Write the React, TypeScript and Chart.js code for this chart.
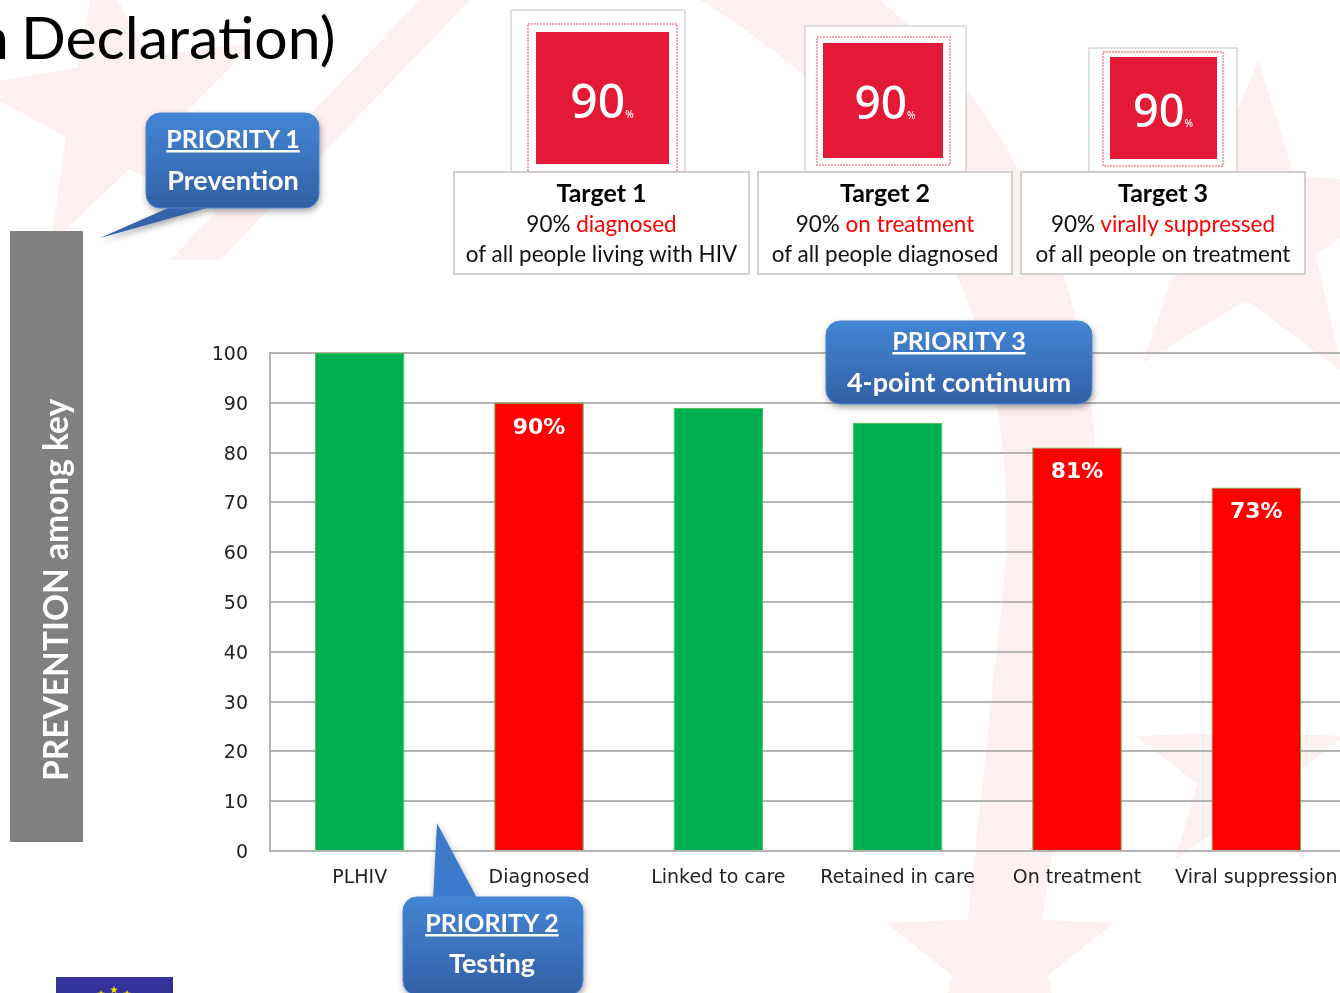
import React, { useEffect, useRef } from "react";
import { Chart, registerables } from "chart.js";

Chart.register(...registerables);

// ---- Data ----
const CATEGORIES = [
  "PLHIV",
  "Diagnosed",
  "Linked to care",
  "Retained in care",
  "On treatment",
  "Viral suppression",
];
const VALUES = [100, 90, 89, 86, 81, 73];
const BAR_COLORS = ["#00b050", "#ff0000", "#00b050", "#00b050", "#ff0000", "#ff0000"];
const VALUE_LABELS = ["", "90%", "", "", "81%", "73%"];
const Y_MIN = 0;
const Y_MAX = 100;
const Y_STEP = 10;

const TARGET_TITLES = ["Target 1", "Target 2", "Target 3"];
const TARGET_HIGHLIGHTS = ["diagnosed", "on treatment", "virally suppressed"];
const TARGET_BASES = [
  "of all people living with HIV",
  "of all people diagnosed",
  "of all people on treatment",
];
const TARGET_PERCENT = "90";

const PRIORITY_TITLES = ["PRIORITY 1", "PRIORITY 2", "PRIORITY 3"];
const PRIORITY_SUBS = ["Prevention", "Testing", "4-point continuum"];

const SIDE_TEXT = "PREVENTION among key";
const TITLE_HEAD = "n";
const TITLE_TEXT = "Declaration)";

// ---- layout of decorations ----
const TARGET_GEOM = [
  { frame: [511, 10, 174, 162], pink: [528, 24, 149, 148], red: [536, 32, 133, 132], box: [454, 172, 295, 102], cx: 602, numY: 118, num: 48 },
  { frame: [805, 26, 161, 146], pink: [817, 37, 133, 128], red: [823, 43, 120, 115], box: [758, 172, 254, 102], cx: 885, numY: 119, num: 46 },
  { frame: [1089, 48, 148, 124], pink: [1103, 52, 120, 114], red: [1110, 57, 107, 102], box: [1021, 172, 284, 102], cx: 1163, numY: 127, num: 45 },
];

const CALLOUT_GEOM = [
  { box: [146, 113, 173, 95], tail: "175,205 218,205 100,238", cx: 233, y1: 148, y2: 190 },
  { box: [403, 897, 180, 98], tail: "433,900 478,900 437,823", cx: 492, y1: 932, y2: 973 },
  { box: [826, 321, 266, 83], tail: "", cx: 959, y1: 350, y2: 392 },
];

const CAL = "Lato, 'Open Sans', sans-serif";
const AXIS_FONT = "'DejaVu Sans', Verdana, sans-serif";

function star(cx: number, cy: number, ro: number, ri: number, rot: number) {
  const pts: string[] = [];
  for (let i = 0; i < 10; i++) {
    const r = i % 2 === 0 ? ro : ri;
    const a = rot + (Math.PI / 5) * i - Math.PI / 2;
    pts.push(`${(cx + r * Math.cos(a)).toFixed(1)},${(cy + r * Math.sin(a)).toFixed(1)}`);
  }
  return pts.join(" ");
}

export default function App() {
  const canvasRef = useRef<HTMLCanvasElement | null>(null);

  useEffect(() => {
    const canvas = canvasRef.current;
    if (!canvas) return;

    const valueLabelPlugin = {
      id: "valueLabels",
      afterDatasetsDraw(chart: any) {
        const ctx = chart.ctx;
        const meta = chart.getDatasetMeta(0);
        ctx.save();
        ctx.font = `bold 22px ${AXIS_FONT}`;
        ctx.fillStyle = "#ffffff";
        ctx.textAlign = "center";
        ctx.textBaseline = "middle";
        meta.data.forEach((el: any, i: number) => {
          const t = VALUE_LABELS[i];
          if (!t) return;
          ctx.fillText(t, el.x, el.y + 25);
        });
        ctx.restore();
      },
    };

    const chart = new Chart(canvas, {
      type: "bar",
      data: {
        labels: CATEGORIES,
        datasets: [
          {
            data: VALUES,
            backgroundColor: BAR_COLORS,
            borderColor: "#3cc13c",
            borderWidth: 1,
            barPercentage: 0.5,
            categoryPercentage: 1,
          },
        ],
      },
      options: {
        animation: false,
        responsive: false,
        devicePixelRatio: 1,
        layout: { padding: { left: 0, top: 353, right: 54, bottom: 0 } },
        plugins: {
          legend: { display: false },
          tooltip: { enabled: false },
          title: { display: false },
        },
        scales: {
          x: {
            offset: true,
            grid: { display: false, drawTicks: false },
            border: { display: true, color: "#b4b4b4", width: 2 },
            ticks: {
              font: { family: AXIS_FONT, size: 19 },
              color: "#222222",
              padding: 16,
              maxRotation: 0,
              autoSkip: false,
            },
            afterFit: (s: any) => {
              s.height = 142;
            },
          },
          y: {
            min: Y_MIN,
            max: Y_MAX,
            ticks: {
              stepSize: Y_STEP,
              padding: 22,
              labelOffset: 2,
              font: { family: AXIS_FONT, size: 19 },
              color: "#222222",
            },
            grid: { color: "#b4b4b4", lineWidth: 2, drawTicks: false },
            border: { display: true, color: "#b4b4b4", width: 2 },
            afterFit: (s: any) => {
              s.width = 270;
            },
          },
        },
      },
      plugins: [valueLabelPlugin],
    });

    return () => chart.destroy();
  }, []);

  return (
    <div
      style={{
        position: "fixed",
        left: 0,
        top: 0,
        width: 1340,
        height: 993,
        overflow: "hidden",
        background: "#ffffff",
      }}
    >
      {/* faint background motif */}
      <svg width={1340} height={993} style={{ position: "absolute", left: 0, top: 0 }}>
        <g fill="#fdf0f0">
          <polygon points={star(120, 110, 150, 60, -0.15)} />
          <polygon points={star(1250, 230, 170, 70, 0.05)} />
          <polygon points={star(1000, 960, 120, 50, 0)} />
          <polygon points={star(1240, 770, 110, 45, 0)} />
          <path d="M 700 0 L 880 0 C 1060 150 1120 380 1090 620 L 1030 993 L 960 993 L 1000 620 C 1030 380 960 160 700 0 Z" />
          <path d="M 420 0 L 470 0 L 220 260 L 170 260 Z" />
        </g>
      </svg>

      <canvas
        ref={canvasRef}
        width={1400}
        height={993}
        style={{ position: "absolute", left: 0, top: 0, width: 1400, height: 993 }}
      />

      <svg width={1340} height={993} style={{ position: "absolute", left: 0, top: 0 }}>
        <defs>
          <linearGradient id="calloutGrad" x1="0" y1="0" x2="0" y2="1">
            <stop offset="0" stopColor="#4485d4" />
            <stop offset="1" stopColor="#3260a5" />
          </linearGradient>
          <filter id="shadow" x="-20%" y="-20%" width="140%" height="160%">
            <feDropShadow dx="1" dy="3" stdDeviation="3" floodColor="#000" floodOpacity="0.35" />
          </filter>
        </defs>

        {/* Title */}
        <text y={59} fontFamily={CAL} fontSize={59} fill="#000">
          <tspan x={9} textAnchor="end">{TITLE_HEAD}</tspan>
          <tspan x={21} textAnchor="start">{TITLE_TEXT}</tspan>
        </text>

        {/* Gray side bar */}
        <rect x={10} y={231} width={73} height={611} fill="#808080" />
        <text
          transform="translate(55, 781) rotate(-90)"
          textAnchor="start"
          dominantBaseline="central"
          fontFamily={CAL}
          fontWeight={700}
          fontSize={33.5}
          fill="#ffffff"
        >
          {SIDE_TEXT}
        </text>

        {/* Targets */}
        {TARGET_GEOM.map((g, i) => (
          <g key={i}>
            <rect x={g.frame[0]} y={g.frame[1]} width={g.frame[2]} height={g.frame[3]} fill="#fff" stroke="#c4c4c4" strokeWidth={1} />
            <rect x={g.pink[0]} y={g.pink[1]} width={g.pink[2]} height={g.pink[3]} fill="#fff" stroke="#f2a7b1" strokeWidth={2} strokeDasharray="2 1" />
            <rect x={g.red[0]} y={g.red[1]} width={g.red[2]} height={g.red[3]} fill="#e31937" />
            <text x={g.cx} y={g.numY} textAnchor="middle" fontFamily="'Noto Sans', sans-serif" fontWeight={500} fontSize={g.num} fill="#fff">
              {TARGET_PERCENT}
              <tspan fontSize={10}>%</tspan>
            </text>
            <rect x={g.box[0]} y={g.box[1]} width={g.box[2]} height={g.box[3]} fill="#fff" stroke="#c4c4c4" strokeWidth={1.5} />
            <text x={g.box[0] + g.box[2] / 2} y={202} textAnchor="middle" fontFamily={CAL} fontWeight={700} fontSize={25} fill="#000">
              {TARGET_TITLES[i]}
            </text>
            <text x={g.box[0] + g.box[2] / 2} y={232} textAnchor="middle" fontFamily={CAL} fontSize={22.5} fill="#111">
              90% <tspan fill="#ff0000">{TARGET_HIGHLIGHTS[i]}</tspan>
            </text>
            <text x={g.box[0] + g.box[2] / 2} y={262} textAnchor="middle" fontFamily={CAL} fontSize={22.5} fill="#111">
              {TARGET_BASES[i]}
            </text>
          </g>
        ))}

        {/* Callouts */}
        {CALLOUT_GEOM.map((c, i) => (
          <g key={"c" + i}>
            <g filter="url(#shadow)">
              {c.tail && <polygon points={c.tail} fill={i === 0 ? "#3463a7" : "#3c7acb"} />}
              <rect x={c.box[0]} y={c.box[1]} width={c.box[2]} height={c.box[3]} rx={14} ry={14} fill="url(#calloutGrad)" stroke="#4a86cf" strokeWidth={1} />
            </g>
            <text x={c.cx} y={c.y1} textAnchor="middle" fontFamily={CAL} fontWeight={700} fontSize={25} fill="#fff" style={{ textDecoration: "underline" }}>
              {PRIORITY_TITLES[i]}
            </text>
            <text x={c.cx} y={c.y2} textAnchor="middle" fontFamily={CAL} fontWeight={700} fontSize={27} fill="#fff">
              {PRIORITY_SUBS[i]}
            </text>
          </g>
        ))}

        {/* EU flag corner */}
        <rect x={56} y={977} width={117} height={20} fill="#333399" />
        <polygon points={star(114, 990, 4, 1.7, 0)} fill="#ffdd00" />
        <polygon points={star(101, 994, 4, 1.7, 0)} fill="#ffdd00" />
        <polygon points={star(127, 994, 4, 1.7, 0)} fill="#ffdd00" />
      </svg>
    </div>
  );
}
